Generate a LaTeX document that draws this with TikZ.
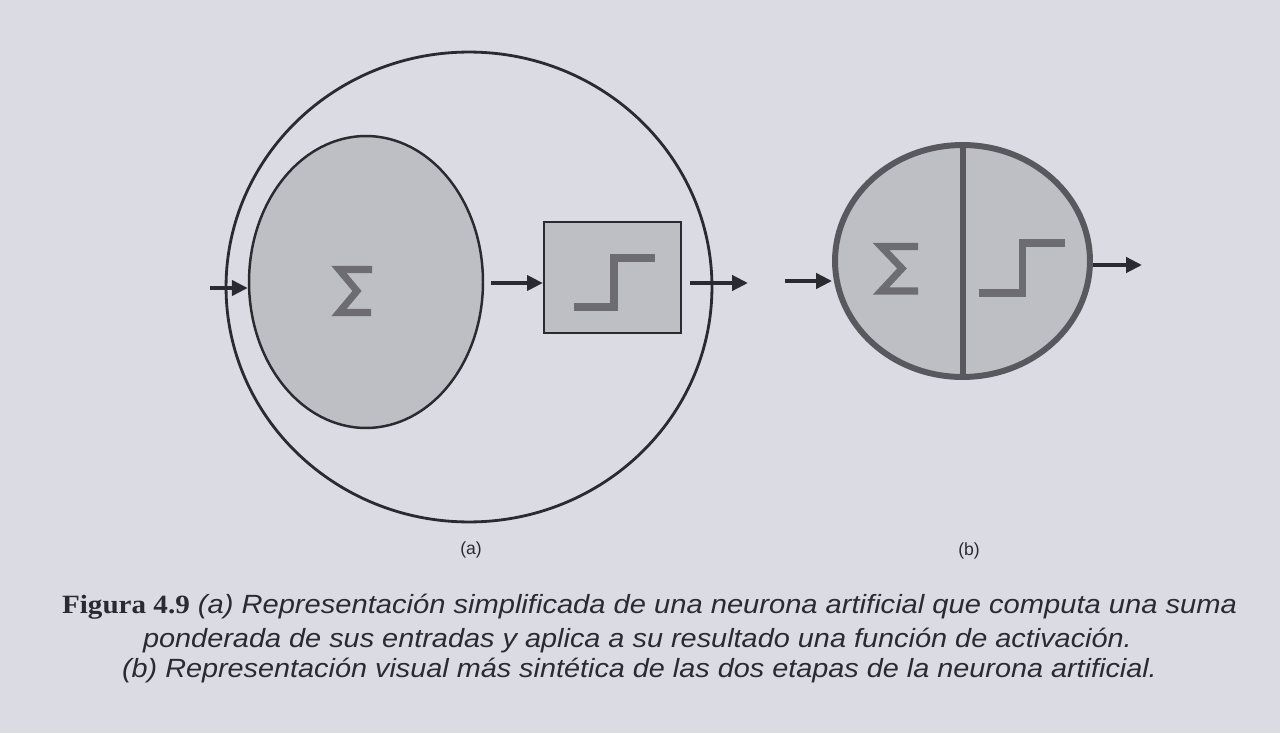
\documentclass[tikz,border=0pt]{standalone}
\usepackage{fontspec}
\setmainfont{Liberation Sans}
\newfontfamily\capserif{Liberation Serif}
\usetikzlibrary{shapes.geometric,arrows.meta}
\definecolor{paper}{RGB}{219,219,228}
\definecolor{fillg}{RGB}{190,190,197}
\definecolor{glyph}{RGB}{108,108,114}
\definecolor{ink}{RGB}{42,42,48}
\definecolor{rimb}{RGB}{88,88,94}
\tikzset{
  arr/.style={draw=ink, line width=2.2pt, -{Triangle[length=9pt,width=8.5pt]}},
  glyphstroke/.style={draw=glyph, line width=4pt, line cap=butt, line join=miter},
  lbl/.style={font=\fontsize{10}{12}\selectfont, text=ink},
  capline/.style={anchor=base, text=ink, inner sep=0pt, font=\fontsize{15}{18}\selectfont\itshape},
}
\begin{document}
\begin{tikzpicture}[x=0.02cm, y=-0.02cm]
\fill[paper] (0,0) rectangle (1280,733);
\useasboundingbox (0,0) rectangle (1280,733);

% ---------- (a) ----------
\node[ellipse, draw=ink, line width=1.6pt, minimum width=9.72cm, minimum height=9.4cm, inner sep=0pt] (outer) at (469,287) {};
\node[ellipse, draw=ink, fill=fillg, line width=1.4pt, minimum width=4.68cm, minimum height=5.84cm, inner sep=0pt] (inner) at (366,282) {};
\node[rectangle, draw=ink, fill=fillg, line width=1.3pt, minimum width=2.74cm, minimum height=2.22cm, inner sep=0pt] (box) at (612.5,277.5) {};

% sigma (a)
\draw[glyphstroke] (372,269.5) -- (339,269.5) -- (357,291) -- (339,312.5) -- (371,312.5);
% step (a)
\draw[glyphstroke] (574,307) -- (614,307) -- (614,258) -- (655,258);

\coordinate (ina) at (210,288);
\draw[arr] (ina) -- (ina -| inner.west);
\coordinate (mida) at (491,283);
\draw[arr] (mida) -- (mida -| box.west);
\coordinate (outa) at (748,283);
\draw[arr] ([xshift=0.16cm]box.east |- outa) -- (outa);

% ---------- (b) ----------
\node[ellipse, draw=rimb, fill=fillg, line width=3.4pt, minimum width=5.1cm, minimum height=4.64cm, inner sep=0pt] (bc) at (962.5,261) {};
\draw[rimb, line width=3.4pt] (bc.north) -- (bc.south);
% sigma (b)
\draw[glyphstroke] (918,246.5) -- (881,246.5) -- (902,268.5) -- (881,291) -- (918,291);
% step (b)
\draw[glyphstroke] (979,293) -- (1022,293) -- (1022,243) -- (1065,243);

\coordinate (inb) at (785,281);
\draw[arr] (inb) -- (inb -| bc.west);
\coordinate (outb) at (1142,265);
\draw[arr] (outb -| bc.east) -- (outb);

% ---------- labels ----------
\node[lbl] (la) at (471,550) {(a)};
\node[lbl] (lb) at (969,551) {(b)};

% ---------- caption ----------
\node[capline] (cap1) at (649.5,613)
  {\resizebox{23.5cm}{\height}{{\capserif\upshape\bfseries Figura 4.9} (a) Representación simplificada de una neurona artificial que computa una suma}};
\node[capline] (cap2) at (637.5,647)
  {\resizebox{19.78cm}{\height}{ponderada de sus entradas y aplica a su resultado una función de activación.}};
\node[capline] (cap3) at (639.5,677)
  {\resizebox{20.7cm}{\height}{(b) Representación visual más sintética de las dos etapas de la neurona artificial.}};
\end{tikzpicture}
\end{document}
